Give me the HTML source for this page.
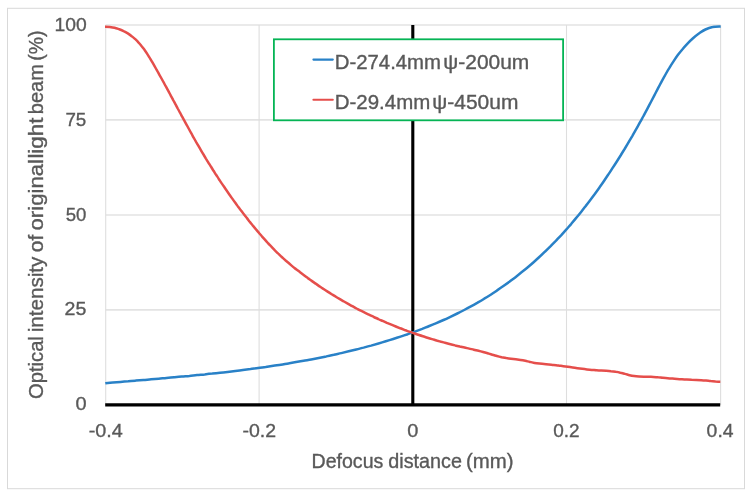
<!DOCTYPE html>
<html><head><meta charset="utf-8"><title>Chart</title>
<style>
html,body{margin:0;padding:0;background:#fff;}
body{width:752px;height:498px;overflow:hidden;}
svg{display:block;}
text{font-family:"Liberation Sans",sans-serif;fill:#595959;stroke:#595959;stroke-width:0.35px;}
</style></head><body>
<svg width="752" height="498" viewBox="0 0 752 498">
<rect x="0" y="0" width="752" height="498" fill="#fff"/>
<rect x="7.5" y="8.3" width="737" height="480.4" fill="#fff" stroke="#d9d9d9" stroke-width="1"/>
<g stroke="#e3e3e3" stroke-width="1.7" fill="none">
<line x1="105.5" y1="25" x2="720.5" y2="25"/>
<line x1="105.5" y1="119.9" x2="720.5" y2="119.9"/>
<line x1="105.5" y1="215" x2="720.5" y2="215"/>
<line x1="105.5" y1="309.8" x2="720.5" y2="309.8"/>
</g>
<g stroke="#dedede" stroke-width="1.1" fill="none">
<line x1="105.7" y1="25" x2="105.7" y2="405"/>
<line x1="259.1" y1="25" x2="259.1" y2="405"/>
<line x1="566.5" y1="25" x2="566.5" y2="405"/>
<line x1="720.6" y1="25" x2="720.6" y2="405"/>
</g>
<line x1="105.2" y1="404.9" x2="720.2" y2="404.9" stroke="#000" stroke-width="3.1"/>
<line x1="412.8" y1="25" x2="412.8" y2="404.9" stroke="#000" stroke-width="3.1"/>
<path d="M105.3 383.2C106.5 383.0 110.3 382.7 112.9 382.5C115.4 382.3 118.0 382.1 120.5 381.9C123.1 381.7 125.6 381.5 128.2 381.3C130.7 381.0 133.3 380.8 135.8 380.6C138.4 380.4 140.9 380.2 143.5 380.0C146.0 379.8 148.6 379.5 151.1 379.3C153.7 379.1 156.2 378.9 158.8 378.7C161.3 378.5 163.9 378.2 166.4 378.0C169.0 377.8 171.5 377.6 174.1 377.3C176.6 377.1 179.2 376.9 181.7 376.6C184.3 376.4 186.8 376.1 189.4 375.9C191.9 375.6 194.5 375.4 197.0 375.1C199.6 374.9 202.1 374.6 204.7 374.4C207.2 374.1 209.8 373.8 212.3 373.6C214.9 373.3 217.4 373.0 220.0 372.7C222.5 372.5 225.1 372.2 227.6 371.9C230.2 371.6 232.7 371.3 235.3 371.0C237.8 370.7 240.3 370.4 242.9 370.0C245.4 369.7 248.0 369.4 250.5 369.1C253.1 368.7 255.6 368.4 258.1 368.0C260.7 367.7 263.2 367.3 265.7 367.0C268.3 366.6 270.8 366.2 273.3 365.8C275.9 365.4 278.4 365.1 280.9 364.7C283.5 364.3 286.0 363.8 288.5 363.4C291.0 363.0 293.6 362.6 296.1 362.1C298.6 361.7 301.1 361.3 303.6 360.8C306.2 360.3 308.7 359.9 311.2 359.4C313.7 358.9 316.2 358.4 318.7 357.9C321.2 357.4 323.7 356.9 326.3 356.4C328.8 355.8 331.3 355.3 333.8 354.8C336.3 354.2 338.8 353.7 341.3 353.1C343.7 352.5 346.2 351.9 348.7 351.3C351.2 350.7 353.7 350.1 356.2 349.5C358.7 348.9 361.2 348.2 363.6 347.6C366.1 346.9 368.6 346.2 371.1 345.6C373.5 344.9 376.0 344.2 378.5 343.5C380.9 342.8 383.4 342.0 385.8 341.3C388.3 340.5 390.7 339.8 393.2 339.0C395.6 338.2 398.1 337.4 400.5 336.6C402.9 335.8 405.4 335.0 407.8 334.2C410.2 333.3 412.6 332.4 415.0 331.6C417.4 330.7 419.8 329.8 422.2 328.9C424.6 327.9 427.0 327.0 429.3 326.0C431.7 325.1 434.1 324.1 436.4 323.1C438.8 322.1 441.1 321.1 443.5 320.0C445.8 319.0 448.1 317.9 450.4 316.8C452.7 315.7 455.0 314.6 457.3 313.5C459.6 312.4 461.9 311.2 464.2 310.0C466.4 308.8 468.7 307.6 470.9 306.4C473.1 305.2 475.4 303.9 477.6 302.7C479.8 301.4 482.0 300.1 484.2 298.7C486.4 297.4 488.5 296.1 490.7 294.7C492.8 293.3 495.0 291.9 497.1 290.4C499.2 289.0 501.3 287.6 503.4 286.1C505.5 284.6 507.6 283.1 509.7 281.6C511.7 280.0 513.8 278.5 515.8 276.9C517.8 275.3 519.8 273.7 521.8 272.1C523.8 270.5 525.8 268.9 527.8 267.2C529.7 265.6 531.7 263.9 533.6 262.2C535.5 260.5 537.4 258.8 539.3 257.0C541.2 255.3 543.1 253.5 544.9 251.7C546.8 250.0 548.6 248.2 550.4 246.4C552.2 244.5 554.0 242.7 555.8 240.9C557.6 239.0 559.3 237.1 561.1 235.3C562.8 233.4 564.5 231.5 566.2 229.6C567.9 227.7 569.6 225.7 571.3 223.8C573.0 221.8 574.6 219.9 576.2 217.9C577.9 216.0 579.5 214.0 581.1 212.0C582.7 210.0 584.2 208.0 585.8 205.9C587.4 203.9 588.9 201.9 590.5 199.8C592.0 197.8 593.5 195.7 595.0 193.7C596.5 191.6 598.0 189.5 599.5 187.4C600.9 185.4 602.4 183.3 603.8 181.2C605.3 179.0 606.7 176.9 608.1 174.8C609.5 172.7 611.0 170.6 612.3 168.4C613.7 166.3 615.1 164.1 616.5 162.0C617.9 159.8 619.2 157.7 620.6 155.5C621.9 153.3 623.2 151.2 624.6 149.0C625.9 146.8 627.2 144.6 628.5 142.4C629.8 140.2 631.1 138.0 632.4 135.8C633.6 133.6 634.9 131.4 636.2 129.1C637.4 126.9 638.7 124.7 639.9 122.4C641.2 120.2 642.4 117.9 643.7 115.7C644.9 113.4 646.1 111.1 647.3 108.9C648.5 106.6 649.7 104.3 650.9 102.0C652.1 99.7 653.3 97.4 654.5 95.1C655.7 92.8 656.9 90.5 658.1 88.2C659.3 85.9 660.5 83.6 661.7 81.3C663.0 79.0 664.2 76.8 665.5 74.5C666.7 72.3 668.0 70.0 669.4 67.9C670.7 65.7 672.1 63.5 673.5 61.4C674.9 59.3 676.3 57.2 677.8 55.1C679.3 53.1 680.9 51.1 682.5 49.2C684.1 47.2 685.8 45.4 687.5 43.6C689.3 41.7 691.1 40.0 693.0 38.3C694.9 36.6 696.8 35.0 698.9 33.5C701.0 32.1 703.1 30.6 705.4 29.5C707.7 28.4 710.1 27.5 712.6 27.0C715.2 26.4 719.3 26.5 720.7 26.4" fill="none" stroke="#2981c7" stroke-width="2.5" stroke-linecap="butt" stroke-linejoin="round"/>
<path d="M105.0 26.8C105.8 26.8 108.2 26.8 109.8 27.0C111.4 27.2 113.0 27.4 114.5 27.8C116.1 28.2 117.6 28.7 119.2 29.2C120.7 29.7 122.2 30.4 123.6 31.1C125.1 31.8 126.5 32.6 127.8 33.4C129.2 34.3 130.5 35.2 131.7 36.2C133.0 37.1 134.2 38.2 135.3 39.2C136.5 40.3 137.6 41.4 138.6 42.6C139.7 43.7 140.7 44.9 141.7 46.2C142.7 47.4 143.6 48.7 144.6 50.0C145.5 51.3 146.4 52.6 147.2 53.9C148.1 55.3 149.0 56.6 149.8 58.0C150.6 59.4 151.5 60.8 152.3 62.2C153.1 63.6 153.9 65.0 154.7 66.4C155.5 67.8 156.3 69.2 157.1 70.6C157.9 72.0 158.6 73.4 159.4 74.8C160.2 76.2 161.0 77.6 161.8 79.0C162.5 80.4 163.3 81.8 164.1 83.2C164.8 84.6 165.6 86.0 166.4 87.4C167.1 88.8 167.9 90.2 168.7 91.6C169.4 93.0 170.2 94.4 170.9 95.9C171.7 97.3 172.5 98.7 173.2 100.1C174.0 101.5 174.7 102.9 175.5 104.3C176.2 105.7 177.0 107.1 177.7 108.5C178.5 109.9 179.3 111.3 180.0 112.7C180.8 114.1 181.5 115.5 182.3 116.9C183.0 118.3 183.8 119.7 184.6 121.1C185.3 122.5 186.1 123.9 186.9 125.3C187.6 126.7 188.4 128.1 189.2 129.5C189.9 130.9 190.7 132.3 191.5 133.7C192.3 135.1 193.0 136.5 193.8 137.9C194.6 139.3 195.4 140.7 196.2 142.1C197.0 143.4 197.8 144.8 198.6 146.2C199.4 147.6 200.2 149.0 201.0 150.3C201.8 151.7 202.6 153.1 203.5 154.5C204.3 155.8 205.1 157.2 205.9 158.6C206.8 159.9 207.6 161.3 208.4 162.7C209.3 164.0 210.1 165.4 211.0 166.7C211.8 168.1 212.7 169.4 213.5 170.8C214.4 172.1 215.2 173.5 216.1 174.8C217.0 176.2 217.9 177.5 218.7 178.8C219.6 180.2 220.5 181.5 221.4 182.9C222.3 184.2 223.2 185.5 224.1 186.8C225.0 188.2 225.9 189.5 226.8 190.8C227.7 192.1 228.6 193.4 229.5 194.7C230.4 196.0 231.4 197.3 232.3 198.6C233.2 199.9 234.1 201.2 235.1 202.5C236.0 203.8 237.0 205.1 237.9 206.4C238.9 207.7 239.8 209.0 240.8 210.2C241.8 211.5 242.7 212.8 243.7 214.0C244.7 215.3 245.7 216.6 246.7 217.8C247.6 219.1 248.6 220.3 249.6 221.6C250.6 222.8 251.6 224.1 252.6 225.3C253.7 226.5 254.7 227.8 255.7 229.0C256.7 230.2 257.7 231.5 258.8 232.7C259.8 233.9 260.9 235.1 261.9 236.3C263.0 237.5 264.0 238.7 265.1 239.9C266.1 241.1 267.2 242.3 268.3 243.5C269.4 244.6 270.5 245.8 271.6 246.9C272.7 248.1 273.8 249.2 274.9 250.4C276.0 251.5 277.2 252.6 278.3 253.7C279.5 254.8 280.6 255.9 281.8 257.0C283.0 258.1 284.2 259.1 285.3 260.2C286.5 261.2 287.8 262.3 289.0 263.3C290.2 264.3 291.4 265.4 292.6 266.4C293.9 267.4 295.1 268.4 296.4 269.4C297.6 270.4 298.9 271.3 300.1 272.3C301.4 273.3 302.7 274.3 304.0 275.2C305.2 276.2 306.5 277.1 307.8 278.1C309.1 279.0 310.4 280.0 311.7 280.9C313.0 281.8 314.3 282.7 315.6 283.6C316.9 284.6 318.3 285.5 319.6 286.4C320.9 287.2 322.2 288.1 323.6 289.0C324.9 289.9 326.3 290.8 327.6 291.6C329.0 292.5 330.3 293.3 331.7 294.2C333.0 295.0 334.4 295.9 335.8 296.7C337.1 297.5 338.5 298.3 339.9 299.1C341.3 299.9 342.6 300.7 344.0 301.5C345.4 302.3 346.8 303.1 348.2 303.9C349.6 304.7 351.0 305.4 352.4 306.2C353.8 307.0 355.2 307.7 356.6 308.5C358.0 309.2 359.5 309.9 360.9 310.7C362.3 311.4 363.7 312.1 365.2 312.8C366.6 313.5 368.0 314.2 369.5 314.9C370.9 315.6 372.4 316.3 373.8 317.0C375.3 317.7 376.7 318.3 378.2 319.0C379.6 319.7 381.1 320.3 382.5 320.9C384.0 321.6 385.5 322.2 386.9 322.9C388.4 323.5 389.9 324.1 391.4 324.7C392.8 325.3 394.3 325.9 395.8 326.5C397.3 327.1 398.8 327.7 400.3 328.3C401.8 328.8 403.2 329.4 404.7 330.0C406.2 330.5 407.7 331.1 409.2 331.6C410.7 332.2 412.3 332.7 413.8 333.2C415.3 333.7 416.8 334.3 418.3 334.8C419.8 335.3 421.3 335.8 422.9 336.3C424.4 336.8 425.9 337.2 427.4 337.7C428.9 338.2 430.5 338.7 432.0 339.1C433.5 339.6 435.1 340.0 436.6 340.5C438.1 340.9 439.7 341.3 441.2 341.8C442.8 342.2 444.3 342.6 445.9 343.0C447.4 343.4 448.9 343.8 450.5 344.2C452.0 344.6 453.6 345.0 455.2 345.4C456.7 345.7 458.3 346.1 459.8 346.5C461.4 346.8 462.9 347.2 464.5 347.5C466.0 347.9 467.6 348.2 469.2 348.6C470.7 349.0 472.3 349.3 473.8 349.7C475.4 350.1 476.9 350.4 478.5 350.8C480.0 351.2 481.6 351.6 483.1 352.0C484.7 352.5 486.2 352.9 487.7 353.3C489.3 353.8 490.8 354.3 492.3 354.7C493.9 355.1 495.4 355.6 496.9 356.0C498.5 356.4 500.0 356.8 501.6 357.2C503.1 357.5 504.7 357.8 506.3 358.1C507.9 358.3 509.4 358.5 511.0 358.7C512.6 358.9 514.2 359.1 515.8 359.3C517.4 359.5 519.0 359.7 520.5 359.9C522.1 360.2 523.7 360.5 525.3 360.8C526.8 361.1 528.4 361.6 529.9 361.9C531.5 362.3 533.0 362.6 534.6 362.9C536.2 363.2 537.7 363.4 539.3 363.6C540.9 363.8 542.5 364.0 544.1 364.1C545.7 364.3 547.3 364.4 548.9 364.5C550.5 364.7 552.1 364.8 553.7 365.0C555.3 365.2 556.8 365.3 558.4 365.5C560.0 365.7 561.6 366.0 563.2 366.2C564.8 366.4 566.3 366.6 567.9 366.8C569.5 367.1 571.1 367.3 572.7 367.5C574.3 367.8 575.8 368.0 577.4 368.2C579.0 368.4 580.6 368.6 582.2 368.8C583.8 369.0 585.3 369.2 586.9 369.4C588.5 369.6 590.1 369.8 591.7 369.9C593.3 370.0 594.9 370.2 596.5 370.3C598.1 370.4 599.7 370.4 601.3 370.5C602.9 370.6 604.5 370.7 606.1 370.8C607.7 370.9 609.3 371.0 610.9 371.2C612.5 371.3 614.0 371.5 615.6 371.8C617.2 372.0 618.8 372.3 620.3 372.7C621.9 373.0 623.4 373.5 624.9 373.9C626.5 374.3 628.0 374.8 629.6 375.2C631.1 375.6 632.7 375.9 634.2 376.1C635.8 376.4 637.4 376.5 639.0 376.6C640.6 376.7 642.2 376.7 643.8 376.7C645.4 376.7 647.0 376.7 648.6 376.7C650.2 376.8 651.8 376.8 653.4 376.9C655.0 377.0 656.6 377.1 658.2 377.3C659.8 377.4 661.3 377.6 662.9 377.7C664.5 377.9 666.1 378.1 667.7 378.2C669.3 378.4 670.9 378.5 672.5 378.6C674.0 378.8 675.6 378.9 677.2 379.0C678.8 379.1 680.4 379.2 682.0 379.3C683.6 379.4 685.2 379.4 686.8 379.5C688.4 379.6 690.0 379.7 691.6 379.8C693.2 379.8 694.8 379.9 696.4 380.0C698.0 380.1 699.6 380.2 701.2 380.3C702.8 380.4 704.4 380.5 706.0 380.6C707.6 380.8 709.1 380.9 710.7 381.1C712.3 381.2 713.9 381.4 715.5 381.6C717.1 381.7 719.5 381.8 720.3 381.8" fill="none" stroke="#e54e4b" stroke-width="2.5" stroke-linecap="butt" stroke-linejoin="round"/>
<rect x="273.9" y="39.3" width="289.2" height="81" fill="#fff" stroke="#05b455" stroke-width="1.8"/>
<line x1="313.4" y1="59.6" x2="332.8" y2="59.6" stroke="#2981c7" stroke-width="2.1" stroke-linecap="round"/>
<line x1="313.4" y1="99.8" x2="332.8" y2="99.8" stroke="#e54e4b" stroke-width="2.1" stroke-linecap="round"/>
<text transform="translate(43.0 0) rotate(-90)" y="0" font-size="19.8"><tspan x="-399.02" textLength="62.88" lengthAdjust="spacingAndGlyphs">Optical</tspan> <tspan x="-332.30" textLength="75.68" lengthAdjust="spacingAndGlyphs">intensity</tspan> <tspan x="-252.19" textLength="17.39" lengthAdjust="spacingAndGlyphs">of</tspan> <tspan x="-230.44" textLength="71.37" lengthAdjust="spacingAndGlyphs">original</tspan> <tspan x="-158.61" textLength="41.07" lengthAdjust="spacingAndGlyphs">light</tspan> <tspan x="-114.16" textLength="50.01" lengthAdjust="spacingAndGlyphs">beam</tspan> <tspan x="-60.83" textLength="30.28" lengthAdjust="spacingAndGlyphs">(%)</tspan></text>
<text y="467.8" font-size="19.8"><tspan x="311.57" textLength="71.75" lengthAdjust="spacingAndGlyphs">Defocus</tspan> <tspan x="388.35" textLength="73.59" lengthAdjust="spacingAndGlyphs">distance</tspan> <tspan x="465.91" textLength="47.56" lengthAdjust="spacingAndGlyphs">(mm)</tspan></text>
<text y="68.7" font-size="19.5"><tspan x="334.73" textLength="106.30" lengthAdjust="spacingAndGlyphs">D-274.4mm</tspan> <tspan x="443.36" textLength="85.92" lengthAdjust="spacingAndGlyphs">ψ-200um</tspan></text>
<text y="108.9" font-size="19.5"><tspan x="334.73" textLength="95.52" lengthAdjust="spacingAndGlyphs">D-29.4mm</tspan> <tspan x="432.36" textLength="86.02" lengthAdjust="spacingAndGlyphs">ψ-450um</tspan></text>
<text y="30.7" font-size="19.1"><tspan x="54.48" textLength="32.18" lengthAdjust="spacingAndGlyphs">100</tspan></text>
<text y="125.6" font-size="19.1"><tspan x="65.42" textLength="20.92" lengthAdjust="spacingAndGlyphs">75</tspan></text>
<text y="220.5" font-size="19.1"><tspan x="65.67" textLength="20.66" lengthAdjust="spacingAndGlyphs">50</tspan></text>
<text y="315.4" font-size="19.1"><tspan x="64.57" textLength="21.79" lengthAdjust="spacingAndGlyphs">25</tspan></text>
<text y="410.3" font-size="19.1"><tspan x="75.52" textLength="11.10" lengthAdjust="spacingAndGlyphs">0</tspan></text>
<text y="437.2" font-size="19.1"><tspan x="88.72" textLength="34.06" lengthAdjust="spacingAndGlyphs">-0.4</tspan></text>
<text y="437.2" font-size="19.1"><tspan x="242.53" textLength="33.59" lengthAdjust="spacingAndGlyphs">-0.2</tspan></text>
<text y="437.2" font-size="19.1"><tspan x="407.22" textLength="11.10" lengthAdjust="spacingAndGlyphs">0</tspan></text>
<text y="437.2" font-size="19.1"><tspan x="553.15" textLength="26.39" lengthAdjust="spacingAndGlyphs">0.2</tspan></text>
<text y="437.2" font-size="19.1"><tspan x="706.64" textLength="26.91" lengthAdjust="spacingAndGlyphs">0.4</tspan></text>
</svg>
</body></html>
